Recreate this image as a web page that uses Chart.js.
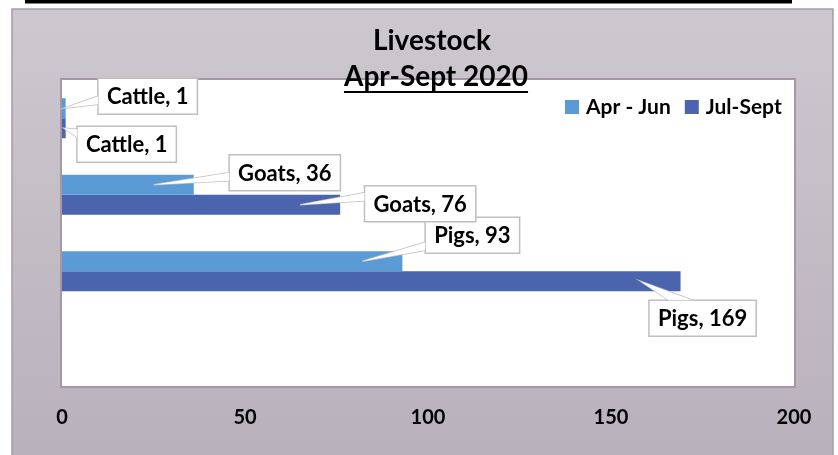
<!DOCTYPE html>
<html>
<head>
<meta charset="utf-8">
<script src="https://cdn.jsdelivr.net/npm/chart.js@4/dist/chart.umd.min.js"></script>
<style>
  html, body { margin: 0; padding: 0; background: #ffffff; }
  canvas { display: block; }
</style>
</head>
<body>
<canvas id="livestockChart" width="838" height="455"></canvas>
<script>
(function () {
    var categories = ['Cattle', 'Goats', 'Pigs', ''];
    var seriesNames = ['Apr - Jun', 'Jul-Sept'];
    var aprJun = [1, 36, 93, null];
    var julSept = [1, 76, 169, null];
    var xTicks = [0, 50, 100, 150, 200];
    var titleLines = ['Livestock', 'Apr-Sept 2020'];

    var colors = ['#5B9BD5', '#4A65AD'];
    var font = 'Lato, "Open Sans", sans-serif';

    // where each callout box sits, relative to the end of its bar
    var calloutOffsets = [
        [[82, -12], [91, -12], [70, -26]],
        [[61, 16], [80, -1], [22, 37]]
    ];

    var frame = {
        id: 'frame',
        beforeDraw: function (chart) {
            var ctx = chart.ctx;
            var a = chart.chartArea;
            ctx.save();
            ctx.fillStyle = '#ffffff';
            ctx.fillRect(0, 0, chart.width, chart.height);
            ctx.fillStyle = '#000000';
            ctx.fillRect(25, 0, 767, 3.5);

            var g = ctx.createLinearGradient(0, 9, 0, chart.height);
            g.addColorStop(0, '#cdc8cf');
            g.addColorStop(1, '#b9b1bc');
            ctx.fillStyle = g;
            ctx.fillRect(12, 9, 821, chart.height - 9);
            ctx.strokeStyle = '#a79ba9';
            ctx.lineWidth = 1.5;
            ctx.strokeRect(12, 9, 821, chart.height - 8);

            ctx.fillStyle = '#ffffff';
            ctx.fillRect(a.left, a.top, a.right - a.left, a.bottom - a.top);
            ctx.strokeStyle = '#a596a8';
            ctx.lineWidth = 2;
            ctx.strokeRect(a.left - 1, a.top - 1, a.right - a.left + 2, a.bottom - a.top + 2);
            ctx.restore();
        },
        afterDatasetsDraw: function (chart) {
            var ctx = chart.ctx;
            ctx.save();
            ctx.font = 'bold 22px ' + font;
            chart.data.datasets.forEach(function (ds, di) {
                var meta = chart.getDatasetMeta(di);
                meta.data.forEach(function (el, i) {
                    var v = ds.data[i];
                    if (v == null) return;
                    var p = el.getProps(['x', 'y', 'base'], true);
                    var off = calloutOffsets[di][i];
                    var text = categories[i] + ', ' + v;
                    var w = ctx.measureText(text).width + 18;
                    var h = 36;
                    var cx = p.x + off[0], cy = p.y + off[1];
                    var left = cx - w / 2, top = cy - h / 2;
                    var px = Math.max(p.base, p.x - Math.min(40, (p.x - p.base) / 2));
                    var py = p.y;
                    var b1, b2;
                    if (py < top && (top - py) > (left - px)) {
                        var bx = Math.min(Math.max(px + 40, left + 15), left + w - 15);
                        b1 = [bx - 12, top];
                        b2 = [bx + 12, top];
                    } else {
                        var by = Math.min(Math.max(py - 8, top + 7), top + h - 7);
                        b1 = [left, by - 4];
                        b2 = [left, by + 4];
                    }
                    ctx.fillStyle = '#ffffff';
                    ctx.strokeStyle = '#bfbfbf';
                    ctx.lineWidth = 1.5;
                    ctx.fillRect(left, top, w, h);
                    ctx.strokeRect(left, top, w, h);
                    ctx.beginPath();
                    ctx.moveTo(b1[0], b1[1]);
                    ctx.lineTo(px, py);
                    ctx.lineTo(b2[0], b2[1]);
                    ctx.stroke();
                    ctx.beginPath();
                    ctx.moveTo(b1[0], b1[1]);
                    ctx.lineTo(px, py);
                    ctx.lineTo(b2[0], b2[1]);
                    ctx.closePath();
                    ctx.fill();
                    ctx.fillStyle = '#000000';
                    ctx.textAlign = 'center';
                    ctx.textBaseline = 'middle';
                    ctx.fillText(text, cx, cy + 1);
                });
            });
            ctx.restore();
        },
        afterDraw: function (chart) {
            var ctx = chart.ctx;
            ctx.save();
            ctx.fillStyle = '#000000';
            ctx.textAlign = 'center';
            ctx.textBaseline = 'middle';
            ctx.font = 'bold 28px ' + font;
            ctx.fillText(titleLines[0], 432, 41);
            ctx.fillText(titleLines[1], 436, 77);
            var tw = ctx.measureText(titleLines[1]).width;
            ctx.fillRect(436 - tw / 2, 91, tw, 2);

            // legend
            ctx.font = 'bold 21px ' + font;
            ctx.textAlign = 'left';
            var x = 565;
            chart.data.datasets.forEach(function (ds, di) {
                ctx.fillStyle = colors[di];
                ctx.fillRect(x, 100, 14, 14);
                ctx.fillStyle = '#000000';
                ctx.fillText(ds.label, x + 21, 107);
                x += 21 + ctx.measureText(ds.label).width + 14;
            });
            ctx.restore();
        }
    };

    new Chart(document.getElementById('livestockChart').getContext('2d'), {
        type: 'bar',
        data: {
            labels: categories,
            datasets: [
                { label: seriesNames[0], data: aprJun, backgroundColor: colors[0] },
                { label: seriesNames[1], data: julSept, backgroundColor: colors[1] }
            ]
        },
        options: {
            indexAxis: 'y',
            responsive: false,
            animation: false,
            categoryPercentage: 0.523,
            barPercentage: 1,
            layout: { padding: { left: 62, right: 44, top: 80, bottom: 0 } },
            plugins: {
                legend: { display: false },
                title: { display: false },
                tooltip: { enabled: false }
            },
            scales: {
                y: { display: false },
                x: {
                    min: xTicks[0],
                    max: xTicks[xTicks.length - 1],
                    afterFit: function (s) { s.height = 69; },
                    afterBuildTicks: function (s) {
                        s.ticks = xTicks.map(function (v) { return { value: v }; });
                    },
                    grid: { display: false, drawTicks: false },
                    border: { display: false },
                    ticks: {
                        color: '#000000',
                        padding: 20,
                        font: { family: font, size: 20, weight: 'bold' }
                    }
                }
            }
        },
        plugins: [frame]
    });
})();
</script>
</body>
</html>
